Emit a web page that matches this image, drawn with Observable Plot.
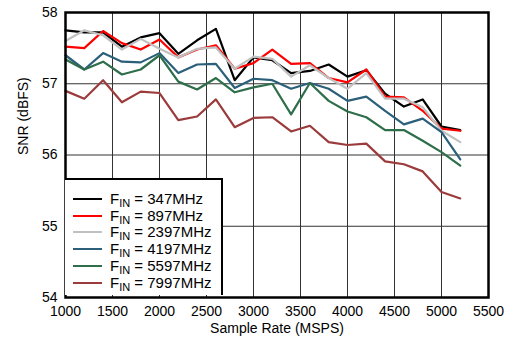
<!DOCTYPE html>
<html><head><meta charset="utf-8">
<script src="https://cdn.jsdelivr.net/npm/d3@7"></script>
<script src="https://cdn.jsdelivr.net/npm/@observablehq/plot@0.6"></script>
<style>
body{margin:0;background:#fff;font-family:"Liberation Sans",Arial,sans-serif;}
#wrap{position:relative;width:508px;height:343px;}
#legend{position:absolute;left:65px;top:178px;width:158px;height:117px;border:2px solid #000;border-bottom:none;border-left:none;background:#fff;box-sizing:border-box;font-size:15px;}
.row{position:absolute;left:8px;height:17px;line-height:17px;white-space:nowrap;}
.sw{display:inline-block;width:29px;height:0;border-top:2.5px solid;vertical-align:middle;margin-right:8px;position:relative;top:-1px;}
sub{font-size:11px;vertical-align:-3px;line-height:0;}
</style></head><body>
<div id="wrap"><div id="chart"></div><div id="legend"></div></div>
<script>
const sampleRates = [1000,1200,1400,1600,1800,2000,2200,2400,2600,2800,3000,3200,3400,3600,3800,4000,4200,4400,4600,4800,5000,5200];
const seriesNames = ["347MHz","897MHz","2397MHz","4197MHz","5597MHz","7997MHz"];
const seriesColors = ["#000000","#ff0000","#c0c0c0","#2b5f7a","#2e6e4a","#9b3b3b"];
const snr347  = [57.75,57.72,57.72,57.52,57.65,57.71,57.42,57.61,57.77,57.05,57.37,57.33,57.15,57.18,57.27,57.10,57.19,56.86,56.68,56.78,56.40,56.35];
const snr897  = [57.52,57.50,57.74,57.57,57.48,57.62,57.37,57.48,57.54,57.21,57.29,57.48,57.28,57.29,57.08,57.02,57.20,56.82,56.81,56.62,56.37,56.34];
const snr2397 = [57.60,57.75,57.68,57.48,57.63,57.49,57.37,57.49,57.51,57.21,57.38,57.35,57.10,57.26,57.08,56.93,57.15,56.79,56.79,56.67,56.34,56.18];
const snr4197 = [57.40,57.20,57.43,57.31,57.30,57.43,57.15,57.27,57.28,56.94,57.07,57.05,56.93,57.01,56.93,56.76,56.82,56.62,56.43,56.51,56.32,55.94];
const snr5597 = [57.34,57.20,57.31,57.13,57.20,57.40,57.03,56.92,57.08,56.88,56.95,57.00,56.57,57.01,56.76,56.61,56.53,56.35,56.35,56.20,56.04,55.85];
const snr7997 = [56.90,56.79,57.05,56.74,56.89,56.87,56.49,56.54,56.78,56.39,56.52,56.53,56.33,56.41,56.18,56.14,56.16,55.91,55.87,55.77,55.48,55.39];
const xTicks = [1000,1500,2000,2500,3000,3500,4000,4500,5000,5500];
const yTicks = [54,55,56,57,58];
const yTitle = "SNR (dBFS)";
const xTitle = "Sample Rate (MSPS)";

const allSeries = [snr347,snr897,snr2397,snr4197,snr5597,snr7997];
const data = [];
allSeries.forEach((vals,i)=>vals.forEach((v,j)=>data.push({series:seriesNames[i],rate:sampleRates[j],snr:v})));

const chart = Plot.plot({
  width:508, height:343,
  marginLeft:65, marginRight:20, marginTop:12, marginBottom:46,
  style:{fontFamily:"Liberation Sans, Arial, sans-serif", fontSize:"14px", color:"#000", background:"#fff"},
  x:{domain:[1000,5500]},
  y:{domain:[54,58]},
  color:{domain:seriesNames, range:seriesColors},
  marks:[
    Plot.ruleX(xTicks,{stroke:"#333",strokeWidth:1,strokeOpacity:1}),
    Plot.ruleY(yTicks,{stroke:"#333",strokeWidth:1,strokeOpacity:1}),
    Plot.line(data,{x:"rate",y:"snr",z:"series",stroke:"series",strokeWidth:2.2}),
    Plot.frame({stroke:"#000",strokeWidth:2.5}),
    Plot.axisX({ticks:xTicks,tickSize:0,tickPadding:9,tickFormat:d=>String(d),label:null,fontSize:14}),
    Plot.axisY({ticks:yTicks,tickSize:0,tickPadding:8,tickFormat:d=>String(d),label:null,fontSize:14}),
    Plot.text([xTitle],{frameAnchor:"bottom",lineAnchor:"middle",dy:31,fontSize:14,fill:"#000"}),
    Plot.text([yTitle],{frameAnchor:"left",dx:-42,rotate:-90,fontSize:14,fill:"#000"})
  ]
});
document.getElementById("chart").appendChild(chart);

const leg = document.getElementById("legend");
seriesNames.forEach((n,i)=>{
  const r = document.createElement("div");
  r.className="row";
  r.style.top = (10 + i*16.7)+"px";
  r.innerHTML = `<span class="sw" style="border-color:${seriesColors[i]}"></span>F<sub>IN</sub> = ${n}`;
  leg.appendChild(r);
});
</script>
</body></html>
